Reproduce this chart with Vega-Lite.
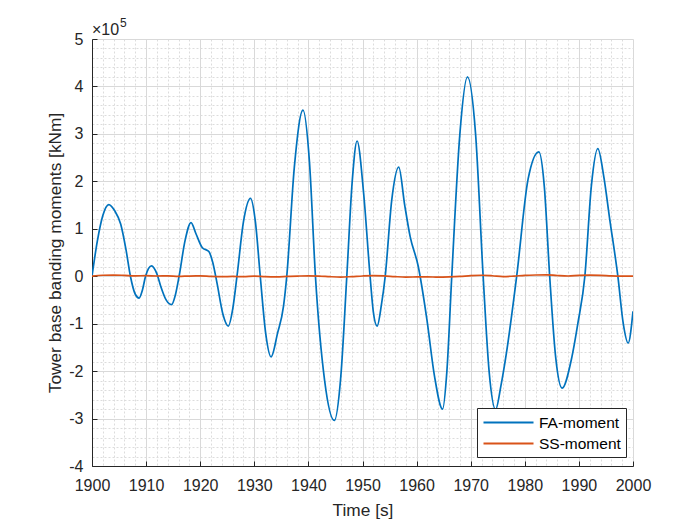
{
  "$schema": "https://vega.github.io/schema/vega-lite/v6.json",
  "autosize": "none",
  "width": 541,
  "height": 427,
  "padding": {"left": 92, "top": 39, "right": 67, "bottom": 59},
  "background": "white",
  "datasets": {
    "fa": [
      {"t": 1900, "m": 0}, {"t": 1901, "m": 75000}, {"t": 1902, "m": 128000},
      {"t": 1903.1, "m": 151000}, {"t": 1904.2, "m": 138000}, {"t": 1905.3, "m": 110000},
      {"t": 1906.3, "m": 55000}, {"t": 1907.1, "m": 0}, {"t": 1908, "m": -38000},
      {"t": 1908.7, "m": -46000}, {"t": 1909.3, "m": -30000}, {"t": 1909.9, "m": 0},
      {"t": 1911, "m": 22000}, {"t": 1912, "m": 5000}, {"t": 1912.7, "m": -21000},
      {"t": 1913.7, "m": -50000}, {"t": 1914.7, "m": -60000}, {"t": 1915.4, "m": -40000},
      {"t": 1916.1, "m": 0}, {"t": 1917.2, "m": 75000}, {"t": 1918.3, "m": 113000},
      {"t": 1919.2, "m": 90000}, {"t": 1920.4, "m": 60000}, {"t": 1921.6, "m": 52000},
      {"t": 1922.3, "m": 30000}, {"t": 1923.1, "m": -14000}, {"t": 1924.2, "m": -80000},
      {"t": 1925.2, "m": -105000}, {"t": 1926, "m": -70000}, {"t": 1926.8, "m": 0},
      {"t": 1928, "m": 115000}, {"t": 1929.3, "m": 164000}, {"t": 1930.2, "m": 115000},
      {"t": 1931.1, "m": 0}, {"t": 1932.1, "m": -120000}, {"t": 1933.1, "m": -170000},
      {"t": 1934.3, "m": -120000}, {"t": 1935.4, "m": -63000}, {"t": 1936, "m": 0},
      {"t": 1937.4, "m": 230000}, {"t": 1939, "m": 350000}, {"t": 1940.2, "m": 240000},
      {"t": 1941.3, "m": 0}, {"t": 1943, "m": -220000}, {"t": 1944.8, "m": -304000},
      {"t": 1946, "m": -210000}, {"t": 1947.1, "m": 0}, {"t": 1948.1, "m": 200000},
      {"t": 1949, "m": 285000}, {"t": 1950.2, "m": 176000}, {"t": 1951.4, "m": 0},
      {"t": 1952, "m": -75000}, {"t": 1952.7, "m": -105000}, {"t": 1953.5, "m": -60000},
      {"t": 1954.2, "m": 0}, {"t": 1955.4, "m": 160000}, {"t": 1956.7, "m": 230000},
      {"t": 1957.8, "m": 150000}, {"t": 1958.8, "m": 84000}, {"t": 1960.3, "m": 21000},
      {"t": 1961.9, "m": -91000}, {"t": 1963.3, "m": -210000}, {"t": 1964.8, "m": -280000},
      {"t": 1965.6, "m": -200000}, {"t": 1966.5, "m": 0}, {"t": 1968, "m": 300000},
      {"t": 1969.4, "m": 420000}, {"t": 1970.9, "m": 300000}, {"t": 1972.3, "m": 0},
      {"t": 1973.4, "m": -200000}, {"t": 1974.6, "m": -281000}, {"t": 1975.6, "m": -230000},
      {"t": 1976.6, "m": -162000}, {"t": 1978.5, "m": 0}, {"t": 1980.6, "m": 204000},
      {"t": 1982.6, "m": 262000}, {"t": 1983.6, "m": 190000}, {"t": 1984.6, "m": 0},
      {"t": 1985.7, "m": -170000}, {"t": 1986.9, "m": -236000}, {"t": 1988.6, "m": -176000},
      {"t": 1989.8, "m": -100000}, {"t": 1991.1, "m": 0}, {"t": 1992.3, "m": 190000},
      {"t": 1993.5, "m": 269000}, {"t": 1994.6, "m": 210000}, {"t": 1995.7, "m": 120000},
      {"t": 1997.2, "m": 0}, {"t": 1998.2, "m": -100000}, {"t": 1999.1, "m": -141000},
      {"t": 2000, "m": -74000}
    ],
    "ss": [
      {"t": 1900, "m": 0}, {"t": 1902, "m": 2000}, {"t": 1904, "m": 2500}, {"t": 1906, "m": 1800},
      {"t": 1908, "m": 800}, {"t": 1910, "m": 1200}, {"t": 1912, "m": 500}, {"t": 1914, "m": 900},
      {"t": 1916, "m": -300}, {"t": 1918, "m": 400}, {"t": 1920, "m": 600}, {"t": 1922, "m": -400},
      {"t": 1924, "m": -800}, {"t": 1926, "m": -500}, {"t": 1928, "m": -1000}, {"t": 1930, "m": 200},
      {"t": 1932, "m": -800}, {"t": 1934, "m": -1200}, {"t": 1936, "m": -500}, {"t": 1938, "m": 300},
      {"t": 1940, "m": 800}, {"t": 1942, "m": 400}, {"t": 1944, "m": -1000}, {"t": 1946, "m": -1800},
      {"t": 1948, "m": -800}, {"t": 1950, "m": 500}, {"t": 1952, "m": 1200}, {"t": 1954, "m": 600},
      {"t": 1956, "m": -800}, {"t": 1958, "m": -1800}, {"t": 1960, "m": -1500}, {"t": 1962, "m": -1200},
      {"t": 1964, "m": -2000}, {"t": 1966, "m": -1500}, {"t": 1968, "m": -500}, {"t": 1970, "m": 1200},
      {"t": 1972, "m": 2000}, {"t": 1974, "m": 1000}, {"t": 1976, "m": -800}, {"t": 1978, "m": 300},
      {"t": 1980, "m": 1800}, {"t": 1982, "m": 2600}, {"t": 1984, "m": 3000}, {"t": 1986, "m": 1500},
      {"t": 1988, "m": 500}, {"t": 1990, "m": 1800}, {"t": 1992, "m": 2200}, {"t": 1994, "m": 1800},
      {"t": 1996, "m": 800}, {"t": 1998, "m": 300}, {"t": 2000, "m": 200}
    ]
  },
  "resolve": {"axis": {"x": "independent", "y": "independent"}},
  "layer": [
    {
      "data": {"values": [{"label": "×10"}]},
      "mark": {"type": "text", "align": "left", "baseline": "alphabetic", "dy": -4, "fontSize": 16, "font": "Liberation Sans", "color": "#262626"},
      "encoding": {
        "x": {
          "datum": 1900, "type": "quantitative",
          "scale": {"domain": [1900, 2000], "nice": false, "zero": false},
          "axis": {
            "orient": "bottom", "zindex": 0, "title": null, "labels": false, "ticks": false, "domain": false,
            "grid": true, "gridColor": "#dcdcdc", "gridDash": [2, 2], "gridWidth": 1,
            "values": [1902, 1904, 1906, 1908, 1912, 1914, 1916, 1918, 1922, 1924, 1926, 1928, 1932, 1934, 1936, 1938, 1942, 1944, 1946, 1948, 1952, 1954, 1956, 1958, 1962, 1964, 1966, 1968, 1972, 1974, 1976, 1978, 1982, 1984, 1986, 1988, 1992, 1994, 1996, 1998]
          }
        },
        "y": {
          "datum": 500000, "type": "quantitative",
          "scale": {"domain": [-400000, 500000], "nice": false, "zero": false},
          "axis": {
            "orient": "left", "zindex": 0, "title": null, "labels": false, "ticks": false, "domain": false,
            "grid": true, "gridColor": "#dcdcdc", "gridDash": [2, 2], "gridWidth": 1,
            "values": [-380000, -360000, -340000, -320000, -280000, -260000, -240000, -220000, -180000, -160000, -140000, -120000, -80000, -60000, -40000, -20000, 20000, 40000, 60000, 80000, 120000, 140000, 160000, 180000, 220000, 240000, 260000, 280000, 320000, 340000, 360000, 380000, 420000, 440000, 460000, 480000]
          }
        },
        "text": {"field": "label"}
      }
    },
    {
      "data": {"values": [{"label": "5"}]},
      "mark": {"type": "text", "align": "left", "baseline": "alphabetic", "dx": 28, "dy": -12, "fontSize": 12, "font": "Liberation Sans", "color": "#262626"},
      "encoding": {
        "x": {"datum": 1900, "type": "quantitative", "axis": null},
        "y": {"datum": 500000, "type": "quantitative", "axis": null},
        "text": {"field": "label"}
      }
    },
    {
      "data": {"name": "fa"},
      "mark": {"type": "line", "interpolate": "monotone", "strokeWidth": 1.7, "clip": true},
      "encoding": {
        "x": {
          "field": "t", "type": "quantitative",
          "axis": {
            "orient": "bottom", "zindex": 0, "title": "Time [s]",
            "values": [1900, 1910, 1920, 1930, 1940, 1950, 1960, 1970, 1980, 1990, 2000],
            "format": "d", "grid": true, "labelFlush": false, "labelOverlap": false,
            "labelPadding": 16, "titlePadding": 8
          }
        },
        "y": {
          "field": "m", "type": "quantitative",
          "axis": {
            "orient": "left", "zindex": 0, "title": "Tower base banding moments [kNm]",
            "values": [-400000, -300000, -200000, -100000, 0, 100000, 200000, 300000, 400000, 500000],
            "labelExpr": "'' + (datum.value / 100000)", "grid": true,
            "labelFlush": false, "labelOverlap": false, "labelPadding": 14, "titlePadding": 4
          }
        },
        "color": {
          "datum": "FA-moment",
          "scale": {"domain": ["FA-moment", "SS-moment"], "range": ["#0072BD", "#D95319"]},
          "legend": {
            "orient": "none", "legendX": 385, "legendY": 369, "title": null,
            "symbolType": "M-3,0H3", "symbolSize": 278, "symbolStrokeWidth": 2, "symbolOffset": 17,
            "labelFontSize": 15.5, "labelFont": "Liberation Sans", "labelColor": "#000000", "labelOffset": 21,
            "strokeColor": "#262626", "fillColor": "white", "padding": 5, "rowPadding": 3
          }
        }
      }
    },
    {
      "data": {"name": "ss"},
      "mark": {"type": "line", "interpolate": "monotone", "strokeWidth": 1.7, "clip": true},
      "encoding": {
        "x": {"field": "t", "type": "quantitative", "axis": null},
        "y": {"field": "m", "type": "quantitative", "axis": null},
        "color": {"datum": "SS-moment"}
      }
    }
  ],
  "config": {
    "view": {"stroke": null},
    "axis": {
      "labelFont": "Liberation Sans", "labelFontSize": 16, "labelColor": "#262626",
      "titleFont": "Liberation Sans", "titleFontSize": 17.3, "titleFontWeight": "normal", "titleColor": "#262626",
      "domainColor": "#262626", "domainWidth": 1, "tickColor": "#262626", "tickSize": -5, "tickWidth": 1,
      "gridColor": "#d9d9d9", "gridWidth": 1
    }
  }
}
